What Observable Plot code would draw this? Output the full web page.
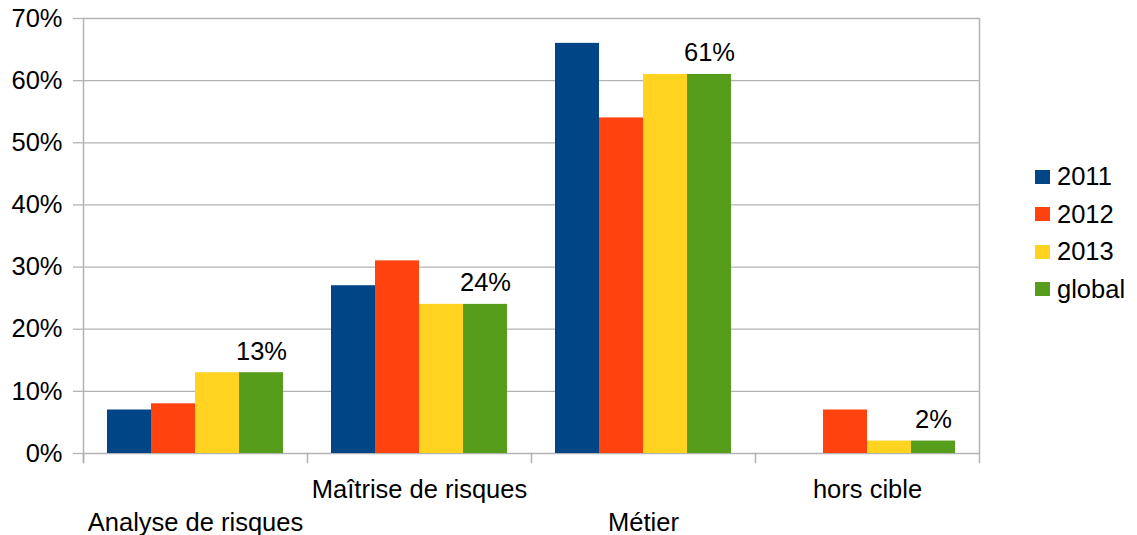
<!DOCTYPE html>
<html>
<head>
<meta charset="utf-8">
<script src="https://cdn.jsdelivr.net/npm/d3@7"></script>
<script src="https://cdn.jsdelivr.net/npm/@observablehq/plot@0.6"></script>
<style>
  body { margin: 0; background: #fff; }
  #wrap { position: relative; width: 1137px; height: 535px; font-family: "Liberation Sans", Arial, sans-serif; }
  #legend { position: absolute; left: 1035px; top: 158px; font-size: 25.5px; color: #000; }
  .row { display: flex; align-items: center; height: 37.5px; }
  .sw { width: 15px; height: 14px; margin-right: 7px; }
</style>
</head>
<body>
<div id="wrap"><div id="legend"></div></div>
<script>
const categories = ["Analyse de risques", "Maîtrise de risques", "Métier", "hors cible"];
const series = ["2011", "2012", "2013", "global"];
const v2011 = [0.07, 0.27, 0.66, 0.00];
const v2012 = [0.08, 0.31, 0.54, 0.07];
const v2013 = [0.13, 0.24, 0.61, 0.02];
const vGlobal = [0.13, 0.24, 0.61, 0.02];
const colors = ["#004586", "#ff420e", "#ffd320", "#579d1c"];
const yTicks = [0, 0.1, 0.2, 0.3, 0.4, 0.5, 0.6, 0.7];

const valuesBySeries = [v2011, v2012, v2013, vGlobal];
const rows = [];
categories.forEach((cat, i) => {
  series.forEach((s, k) => rows.push({cat, series: s, value: valuesBySeries[k][i]}));
});
const pct = d3.format(".0%");
const gridColor = "#b3b3b3";
const fs = 25.5;

const chart = Plot.plot({
  width: 1137,
  height: 535,
  marginLeft: 83,
  marginRight: 158,
  marginTop: 18,
  marginBottom: 82,
  style: {fontFamily: '"Liberation Sans", Arial, sans-serif', fontSize: fs + "px", color: "#000", background: "#fff"},
  fx: {domain: categories, padding: 0, axis: null},
  x: {domain: series, paddingInner: 0, paddingOuter: 0.49, axis: null},
  y: {domain: [0, 0.7], axis: null},
  color: {domain: series, range: colors},
  marks: [
    Plot.gridY(yTicks, {stroke: gridColor, strokeOpacity: 1, strokeWidth: 1.3}),
    Plot.axisY(yTicks, {tickFormat: pct, tickSize: 10, tickPadding: 11, stroke: gridColor, strokeWidth: 1.3, fill: "#000", fontSize: fs, label: null}),
    Plot.frame({facet: "super", anchor: "left", insetBottom: -9, stroke: gridColor, strokeWidth: 1.5}),
    Plot.frame({facet: "super", anchor: "right", insetBottom: -9, stroke: gridColor, strokeWidth: 1.5}),
    Plot.frame({anchor: "left", insetTop: 435, insetBottom: -9, stroke: gridColor, strokeWidth: 1.5}),
    Plot.barY(rows, {fx: "cat", x: "series", y: "value", fill: "series"}),
    Plot.text(rows.filter(d => d.series === "global"), {
      fx: "cat", x: "series", y: "value", text: d => pct(d.value),
      dy: -13, lineAnchor: "bottom", fontSize: fs, fill: "#000"
    }),
    Plot.text(categories.filter((d, i) => i % 2 === 0), {
      fx: d => d, text: d => d, frameAnchor: "bottom", lineAnchor: "bottom", dy: 77, fontSize: fs, fill: "#000"
    }),
    Plot.text(categories.filter((d, i) => i % 2 === 1), {
      fx: d => d, text: d => d, frameAnchor: "bottom", lineAnchor: "bottom", dy: 44, fontSize: fs, fill: "#000"
    })
  ]
});
const wrap = document.getElementById("wrap");
wrap.insertBefore(chart, wrap.firstChild);

const legend = document.getElementById("legend");
series.forEach((s, k) => {
  const row = document.createElement("div");
  row.className = "row";
  const sw = document.createElement("div");
  sw.className = "sw";
  sw.style.background = colors[k];
  const t = document.createElement("span");
  t.textContent = s;
  row.appendChild(sw);
  row.appendChild(t);
  legend.appendChild(row);
});
</script>
</body>
</html>
